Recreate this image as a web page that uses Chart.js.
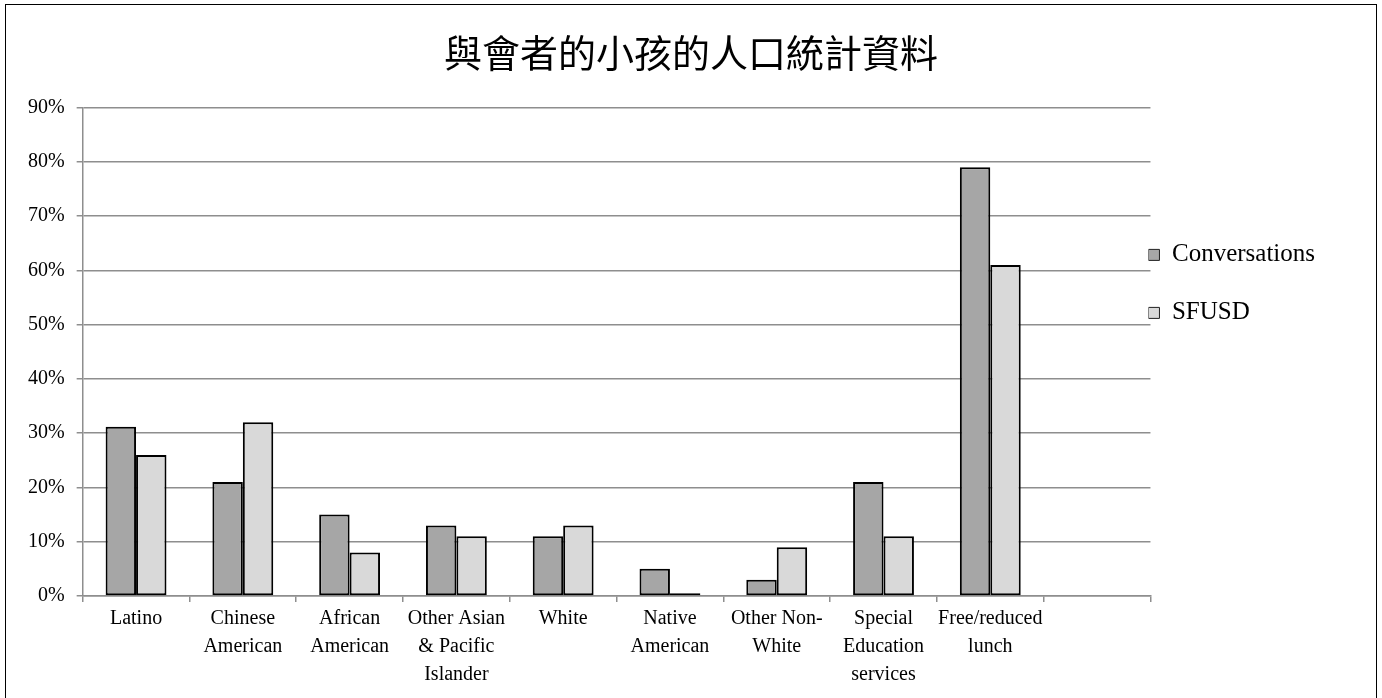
<!DOCTYPE html>
<html>
<head>
<meta charset="utf-8">
<script src="https://cdn.jsdelivr.net/npm/chart.js@4/dist/chart.umd.min.js"></script>
<style>
  html, body { margin: 0; padding: 0; background: #fff; overflow: hidden; }
  #wrap { position: relative; width: 1382px; height: 698px; }
  #frame { position: absolute; left: 5px; top: 4px; width: 1372px; height: 720px; border: 1.5px solid #000; box-sizing: border-box; pointer-events: none; }
</style>
</head>
<body>
<div id="wrap">
  <canvas id="demoChart" width="1382" height="698"></canvas>
  <div id="frame"></div>
</div>
<script>
// categories (last slot is left empty like the original)
const categories = [
  "Latino",
  ["Chinese", "American"],
  ["African", "American"],
  ["Other Asian", "& Pacific", "Islander"],
  "White",
  ["Native", "American"],
  ["Other Non-", "White"],
  ["Special", "Education", "services"],
  ["Free/reduced", "lunch"],
  ""
];
const seriesNames = ["Conversations", "SFUSD"];
const conversations = [31.2, 21, 15, 13, 11, 5, 3, 21, 79];
const sfusd = [26, 32, 8, 11, 13, 0.5, 9, 11, 61];
const yMax = 90;
const yStep = 10;
const chartTitle = "與會者的小孩的人口統計資料";

const serif = "'Liberation Serif', 'Times New Roman', serif";
const gridGray = "#8e8e8e";

// title over the whole canvas, legend pulled against the plot like the original
const placeBlocks = {
  id: "placeBlocks",
  afterLayout(chart) {
    const t = chart.titleBlock;
    t.left = 0;
    t.right = chart.width;
    t.width = chart.width;
    const lg = chart.legend;
    const w = lg.right - lg.left;
    lg.left = chart.chartArea.right - 2;
    lg.right = lg.left + w;
  }
};

const ctx = document.getElementById("demoChart").getContext("2d");
new Chart(ctx, {
  type: "bar",
  data: {
    labels: categories,
    datasets: [
      { label: seriesNames[0], data: conversations, backgroundColor: "#a6a6a6" },
      { label: seriesNames[1], data: sfusd, backgroundColor: "#d9d9d9" }
    ]
  },
  options: {
    responsive: false,
    animation: false,
    layout: { padding: { left: 16, right: 55, top: 30, bottom: 6 } },
    datasets: {
      bar: {
        categoryPercentage: 0.57,
        barPercentage: 1.0,
        borderColor: "#000",
        borderWidth: 2,
        borderSkipped: false
      }
    },
    plugins: {
      title: {
        display: true,
        text: chartTitle,
        color: "#000",
        font: { family: "'Noto Sans CJK TC', sans-serif", size: 38, weight: "normal" },
        padding: { top: 0, bottom: 32 }
      },
      legend: {
        position: "right",
        align: "start",
        title: { display: true, text: " ", padding: { top: 198, bottom: 0 } },
        labels: {
          boxWidth: 11,
          boxHeight: 11,
          padding: 0,
          color: "#000",
          font: { family: serif, size: 25, lineHeight: 2.32 },
          generateLabels(chart) {
            return chart.data.datasets.map((ds, i) => ({
              text: [ds.label],
              fillStyle: ds.backgroundColor,
              strokeStyle: "#222",
              fontColor: "#000",
              lineWidth: 1,
              datasetIndex: i
            }));
          }
        }
      },
      tooltip: { enabled: false }
    },
    scales: {
      x: {
        grid: {
          display: true,
          drawOnChartArea: false,
          offset: true,
          tickLength: 6,
          color: gridGray,
          lineWidth: 1.5
        },
        border: { color: gridGray, width: 1.5 },
        ticks: {
          color: "#000",
          maxRotation: 0,
          autoSkip: false,
          padding: 3,
          font: { family: serif, size: 20, lineHeight: 1.4 }
        }
      },
      y: {
        min: 0,
        max: yMax,
        grid: { color: gridGray, lineWidth: 1.5, tickLength: 6 },
        border: { color: gridGray, width: 1.5 },
        ticks: {
          stepSize: yStep,
          color: "#000",
          padding: 12,
          font: { family: serif, size: 20 },
          callback: v => v + "%"
        }
      }
    }
  },
  plugins: [placeBlocks]
});
</script>
</body>
</html>
